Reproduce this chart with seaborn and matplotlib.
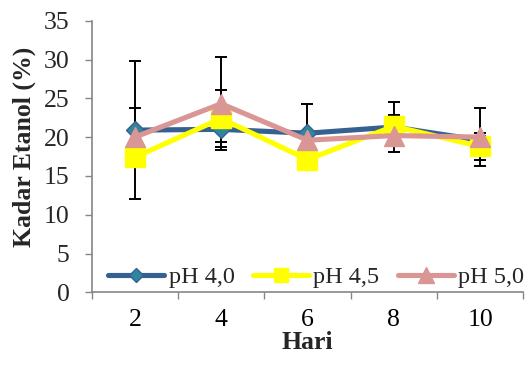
import numpy as np
import pandas as pd
import matplotlib
matplotlib.use("Agg")
import matplotlib.pyplot as plt
import seaborn as sns
from matplotlib.ticker import FixedLocator, NullFormatter, FixedFormatter

# ---- data ----
hari = [2, 4, 6, 8, 10]
series_names = ["pH 4,0", "pH 4,5", "pH 5,0"]
ph40 = [20.9, 21.0, 20.5, 21.3, 19.6]
ph45 = [17.4, 22.4, 17.1, 21.4, 18.8]
ph50 = [20.0, 24.3, 19.6, 20.2, 20.0]
err40 = [8.9, 1.6, 3.8, 3.2, 0.6]
err45 = [0.8, 3.7, 0.8, 1.4, 1.7]
err50 = [3.7, 6.0, 0.5, 0.8, 3.7]
yticks = [0, 5, 10, 15, 20, 25, 30, 35]

sns.set_theme(style="white")
plt.rcParams["font.family"] = ["Liberation Serif", "DejaVu Serif"]

df = pd.DataFrame({
    "Hari": hari * 3,
    "Kadar": ph40 + ph45 + ph50,
    "err": err40 + err45 + err50,
    "Seri": sum([[n] * len(hari) for n in series_names], []),
})

line_colors = {"pH 4,0": "#376092", "pH 4,5": "#FFFF00", "pH 5,0": "#D99694"}
marker_face = {"pH 4,0": "#31859C", "pH 4,5": "#FFFF00", "pH 5,0": "#D99694"}
markers = {"pH 4,0": "D", "pH 4,5": "s", "pH 5,0": "^"}
msize = {"pH 4,0": 9, "pH 4,5": 14, "pH 5,0": 15}

fig = plt.figure(figsize=(5.29, 3.67), dpi=100)
ax = fig.add_axes([0.1733, 0.2035, 0.8159, 0.7401])

axis_gray = "#868686"

for i, name in enumerate(series_names):
    sub = df[df["Seri"] == name]
    ax.errorbar(sub["Hari"], sub["Kadar"], yerr=sub["err"], fmt="none",
                ecolor="black", elinewidth=1.4, capsize=4.3, capthick=1.4,
                zorder=1.5)
    sns.lineplot(data=sub, x="Hari", y="Kadar", ax=ax, color=line_colors[name],
                 linewidth=3.7, marker=markers[name], markersize=msize[name],
                 markerfacecolor=marker_face[name],
                 markeredgecolor=line_colors[name], markeredgewidth=1.0,
                 label=name, zorder=3 + i, errorbar=None)

ax.set_xlim(1, 11)
ax.set_ylim(0, 35)
ax.xaxis.set_major_locator(FixedLocator([1, 3, 5, 7, 9, 11]))
ax.xaxis.set_major_formatter(NullFormatter())
ax.xaxis.set_minor_locator(FixedLocator(hari))
ax.xaxis.set_minor_formatter(FixedFormatter([str(h) for h in hari]))
ax.set_yticks(yticks)
ax.set_yticklabels([str(t) for t in yticks])

ax.tick_params(axis="x", which="major", direction="out", length=5, width=1,
               color=axis_gray, bottom=True)
ax.tick_params(axis="x", which="minor", length=0, labelsize=18.5, pad=12,
               labelcolor="black", bottom=True)
ax.tick_params(axis="y", which="major", direction="out", length=5, width=1,
               color=axis_gray, labelsize=18.5, pad=11, left=True)

for s in ["top", "right"]:
    ax.spines[s].set_visible(False)
for s in ["left", "bottom"]:
    ax.spines[s].set_color(axis_gray)
    ax.spines[s].set_linewidth(1.2)

ax.set_xlabel("Hari", fontsize=18.5, fontweight="bold", labelpad=0)
ax.set_ylabel("Kadar Etanol (%)", fontsize=18.5, fontweight="bold")
ax.yaxis.set_label_coords(-0.13, 0.535)
ax.grid(False)

leg = ax.legend(loc="center", bbox_to_anchor=(0.52, 0.056), ncol=3,
                frameon=False, fontsize=17.5, handlelength=2.3,
                columnspacing=0.75, handletextpad=0.2, borderpad=0,
                markerscale=0.75)

fig.savefig("out.png", dpi=100)
